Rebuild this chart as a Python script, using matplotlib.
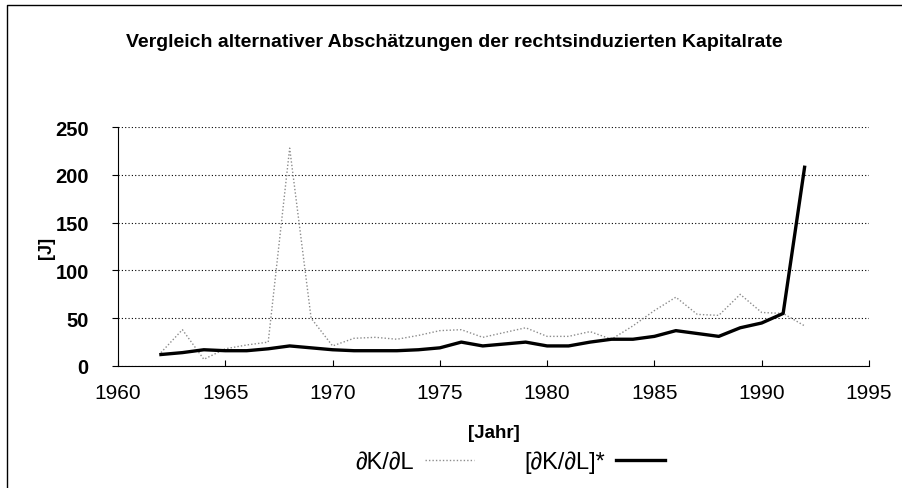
import matplotlib.pyplot as plt
from matplotlib.lines import Line2D

plt.rcParams['font.family'] = ['Liberation Sans', 'DejaVu Sans']

# Jahre und beide Schätzreihen
jahre = list(range(1962, 1993))
dk_dl = [14, 38, 7, 18, 22, 25, 228, 50, 21, 29, 30, 28, 32, 37,
         38, 30, 35, 40, 31, 31, 36, 28, 42, 58, 72, 54, 53, 75, 56, 55, 42]
dk_dl_stern = [12, 14, 17, 16, 16, 18, 21, 19, 17, 16, 16, 16, 17, 19,
               25, 21, 23, 25, 21, 21, 25, 28, 28, 31, 37, 34, 31, 40, 45, 55, 208]

x_ticks = [1960, 1965, 1970, 1975, 1980, 1985, 1990, 1995]
y_ticks = [0, 50, 100, 150, 200, 250]

fig = plt.figure(figsize=(9.03, 4.89), dpi=100)
ax = fig.add_axes([0.1307, 0.2495, 0.8316, 0.4885])

# Rahmen (nur links und oben sichtbar, Scan ist beschnitten)
fig.lines.append(Line2D([0.008, 0.008, 1.0], [0.0, 0.988, 0.988], transform=fig.transFigure,
                        color='black', linewidth=1.0))

ax.plot(jahre, dk_dl, color='#8c8c8c', linestyle=(0, (1, 1.5)), linewidth=1.0, label='∂K/∂L')
ax.plot(jahre, dk_dl_stern, color='black', linewidth=2.4, label='[∂K/∂L]*')

ax.set_xlim(1960, 1995)
ax.set_ylim(0, 250)
ax.set_xticks(x_ticks)
ax.set_yticks(y_ticks)
ax.set_xticklabels([str(t) for t in x_ticks], fontsize=15)
ax.set_yticklabels([str(t) for t in y_ticks], fontsize=14.5, fontweight='bold')

ax.yaxis.grid(True, color='black', linestyle=(0, (1, 2)), linewidth=0.8)
ax.set_axisbelow(True)
for s in ['top', 'right']:
    ax.spines[s].set_visible(False)
ax.tick_params(axis='x', direction='in', length=4, pad=12)
ax.tick_params(axis='y', direction='out', length=4, pad=17)

ax.set_ylabel('[J]', fontsize=13, fontweight='bold')
ax.yaxis.set_label_coords(-0.084, 0.5)
ax.set_xlabel('[Jahr]', fontsize=13.5, fontweight='bold', labelpad=16)

fig.text(0.503, 0.914, 'Vergleich alternativer Abschätzungen der rechtsinduzierten Kapitalrate',
         ha='center', va='center', fontsize=14, fontweight='bold')

fig.legend(loc='center', bbox_to_anchor=(0.565, 0.053), ncol=2, frameon=False,
           markerfirst=False, fontsize=17, handlelength=2.1, handletextpad=0.47,
           columnspacing=2.1)

plt.savefig('out.png', dpi=100)
